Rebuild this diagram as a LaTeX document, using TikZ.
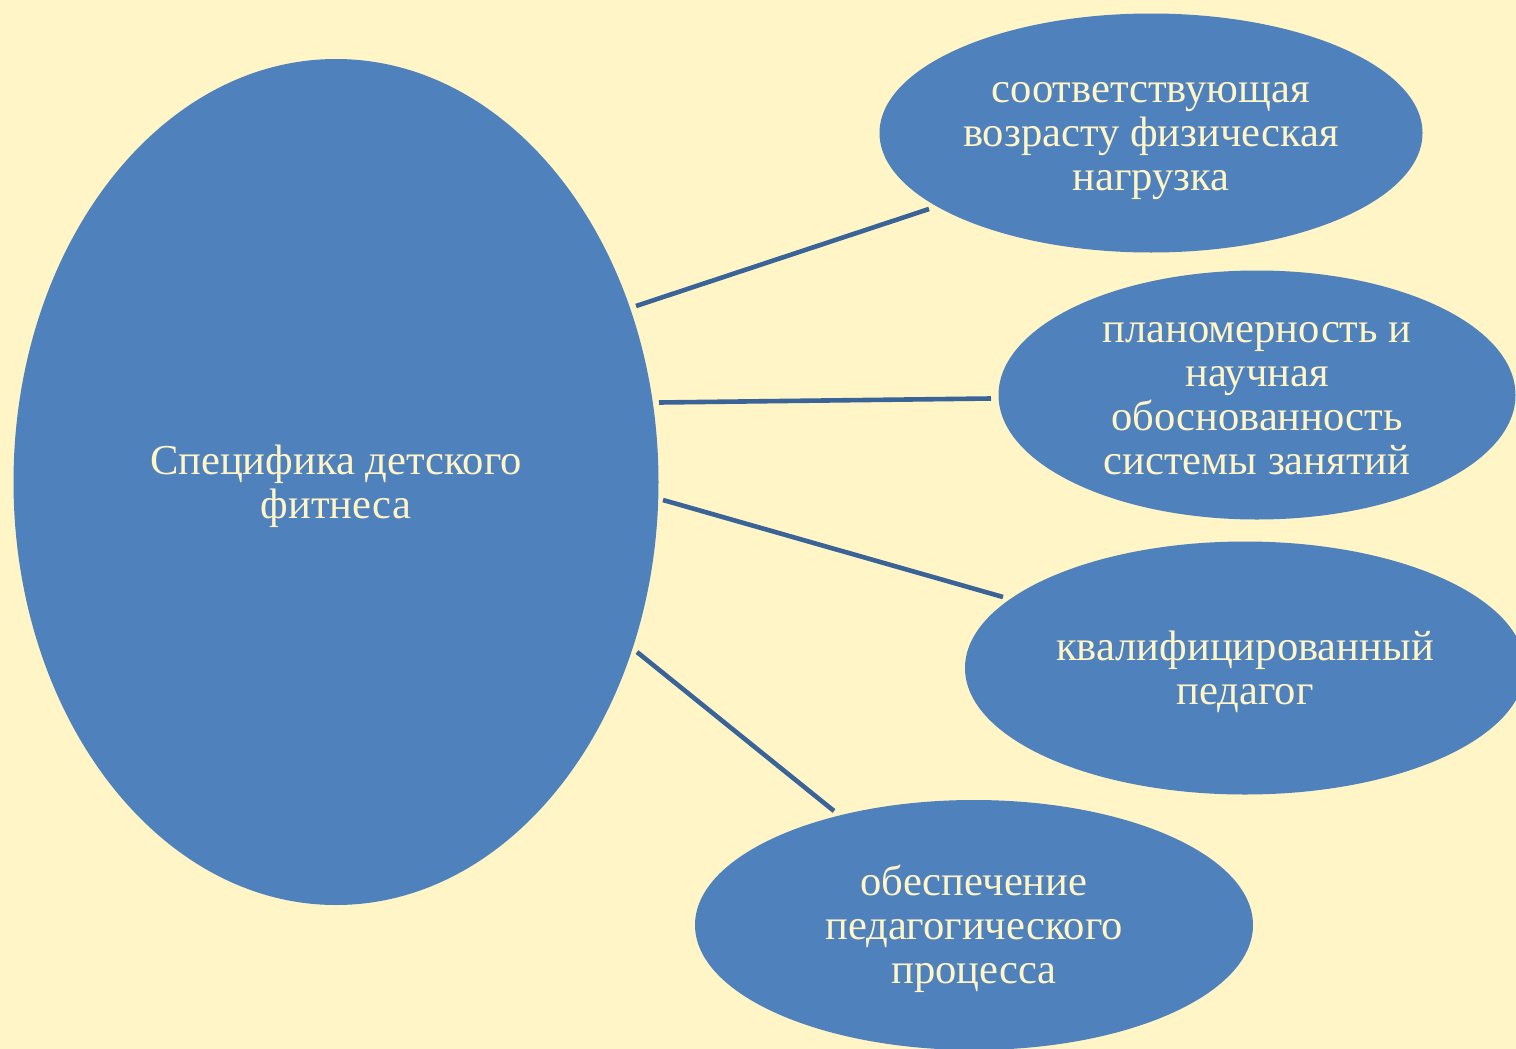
\documentclass[tikz,border=0pt]{standalone}
\usepackage{fontspec}
\setmainfont{Liberation Serif}
\usetikzlibrary{shapes.geometric,calc}
\definecolor{bgc}{HTML}{FFF5C6}
\definecolor{blobc}{HTML}{4F81BD}
\definecolor{linec}{HTML}{3A6498}
\definecolor{txtc}{HTML}{FFF5C6}
\tikzset{
  blob/.style={ellipse, fill=blobc, draw=none, inner sep=0pt, outer sep=0pt},
  lbl/.style={inner sep=0pt, text=txtc, align=center, font=\fontsize{21.3}{22}\selectfont},
  conn/.style={draw=linec, line width=2.3pt}
}
\begin{document}
\begin{tikzpicture}[x=0.5pt,y=-0.5pt]
\useasboundingbox (0,0) rectangle (1516,1049);
\fill[bgc] (0,0) rectangle (1516,1049);
\clip (0,0) rectangle (1516,1049);
\node[blob, minimum width=322.5pt, minimum height=423pt] (big) at (336,482) {};
\node[blob, minimum width=271.5pt, minimum height=119.5pt] (e1) at (1151,133) {};
\node[blob, minimum width=258.5pt, minimum height=124.5pt] (e2) at (1257,395) {};
\node[blob, minimum width=280pt, minimum height=126.5pt] (e3) at (1245,668) {};
\node[blob, minimum width=279pt, minimum height=125pt] (e4) at (974,925) {};
\node[lbl, yshift=-2.3pt] (bigt) at (big) {Специфика детского\\фитнеса};
\node[lbl, yshift=-3.8pt] (e1t) at (e1) {соответствующая\\возрасту физическая\\нагрузка};
\node[lbl, yshift=-2pt] (e2t) at (e2) {планомерность и\\научная\\обоснованность\\системы занятий};
\node[lbl, yshift=-2pt] (e3t) at (e3) {квалифицированный\\педагог};
\node[lbl, yshift=-2pt] (e4t) at (e4) {обеспечение\\педагогического\\процесса};
\draw[conn] ($(big)+(300,-176)$) -- ($(e1)+(-222,76)$);
\draw[conn] ($(big)+(323,-79.5)$) -- ($(e2)+(-266,3.5)$);
\draw[conn] ($(big)+(327,18)$) -- ($(e3)+(-242,-71)$);
\draw[conn] ($(big)+(301,170)$) -- ($(e4)+(-140,-114)$);
\end{tikzpicture}
\end{document}
